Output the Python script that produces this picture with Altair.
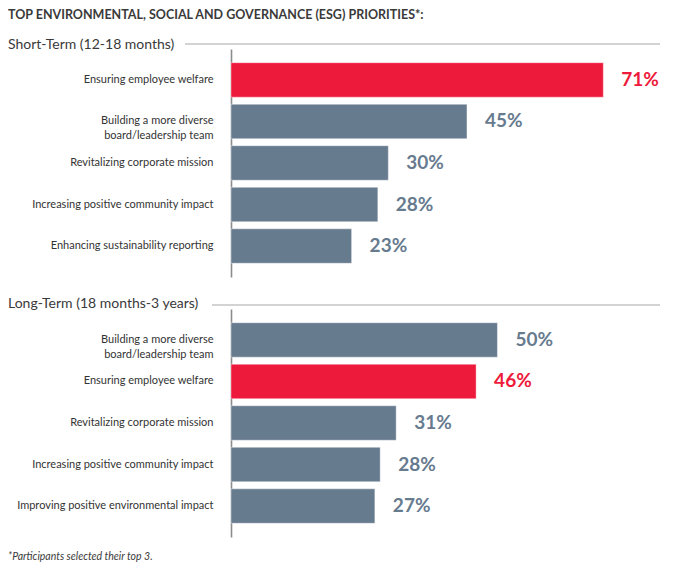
import altair as alt
import pandas as pd

FONT = "Lato"
RED = "#ee1a3b"
GRAY = "#677b8f"
GRAY_TXT = "#62768b"
DARK = "#3a3a3a"

title_text = "TOP ENVIRONMENTAL, SOCIAL AND GOVERNANCE (ESG) PRIORITIES*:"
short_header = "Short-Term (12-18 months)"
long_header = "Long-Term (18 months-3 years)"
footnote = "*Participants selected their top 3."

short_cats = [
    "Ensuring employee welfare",
    "Building a more diverse|board/leadership team",
    "Revitalizing corporate mission",
    "Increasing positive community impact",
    "Enhancing sustainability reporting",
]
short_vals = [71, 45, 30, 28, 23]

long_cats = [
    "Building a more diverse|board/leadership team",
    "Ensuring employee welfare",
    "Revitalizing corporate mission",
    "Increasing positive community impact",
    "Improving positive environmental impact",
]
long_vals = [50, 46, 31, 28, 27]

highlight = "Ensuring employee welfare"

PANEL_W = 430
PANEL_H = 228


def text_mark(txt, x, y, size, weight="normal", style="normal", color=DARK):
    return alt.Chart(pd.DataFrame({"t": [txt]})).mark_text(
        align="left", baseline="middle", font=FONT, fontSize=size,
        fontWeight=weight, fontStyle=style, color=color,
    ).encode(text="t:N", x=alt.value(x), y=alt.value(y))


def rule_mark(x1, x2, y):
    return alt.Chart(pd.DataFrame({"a": [0]})).mark_rule(
        color="#a8a8a8", strokeWidth=1.2
    ).encode(x=alt.value(x1), x2=alt.value(x2), y=alt.value(y))


def panel(cats, vals, xmax, extras):
    df = pd.DataFrame({
        "cat": cats,
        "val": vals,
        "hl": ["red" if c == highlight else "gray" for c in cats],
        "lab": [f"{v}%" for v in vals],
    })
    y = alt.Y(
        "cat:N", sort=cats, title=None,
        scale=alt.Scale(paddingInner=0.17, paddingOuter=0.33),
        axis=alt.Axis(
            ticks=False, domain=True, domainColor="#8c8c8c", domainWidth=1.6,
            labelFont=FONT, labelFontSize=11, labelColor="#333333",
            labelPadding=18, labelLimit=300, labelLineHeight=15,
            labelExpr="split(datum.label, '|')",
        ),
    )
    x = alt.X("val:Q", scale=alt.Scale(domain=[0, xmax], nice=False), axis=None)
    color = alt.Color("hl:N", scale=alt.Scale(domain=["red", "gray"], range=[RED, GRAY]), legend=None)
    base = alt.Chart(df)
    bars = base.mark_bar(stroke="#ffffff", strokeOpacity=0.5, strokeWidth=0.8).encode(y=y, x=x, color=color)
    labels = base.mark_text(
        align="left", baseline="middle", dx=18, font=FONT, fontSize=19, fontWeight="bold"
    ).encode(
        y=alt.Y("cat:N", sort=cats),
        x="val:Q",
        text="lab:N",
        color=alt.Color("hl:N", scale=alt.Scale(domain=["red", "gray"], range=[RED, GRAY_TXT]), legend=None),
    )
    return alt.layer(bars, labels, *extras).properties(width=PANEL_W, height=PANEL_H)


p1 = panel(
    short_cats, short_vals, 82.0,
    [
        text_mark(title_text, -223, -34.5, 12.5, weight="bold"),
        text_mark(short_header, -223, -4, 14),
        rule_mark(-46, 429, -5),
    ],
)
p2 = panel(
    long_cats, long_vals, 80.7,
    [
        text_mark(long_header, -223, -5, 14),
        rule_mark(-19, 429, -4),
        text_mark(footnote, -223, 248, 10.5, style="italic"),
    ],
)

chart = alt.vconcat(p1, p2, spacing=32, bounds="flush").resolve_scale(
    color="independent", x="independent"
).properties(padding=0).configure_view(stroke=None)

chart.save("out.html", embed_options={"renderer": "svg", "actions": False})
